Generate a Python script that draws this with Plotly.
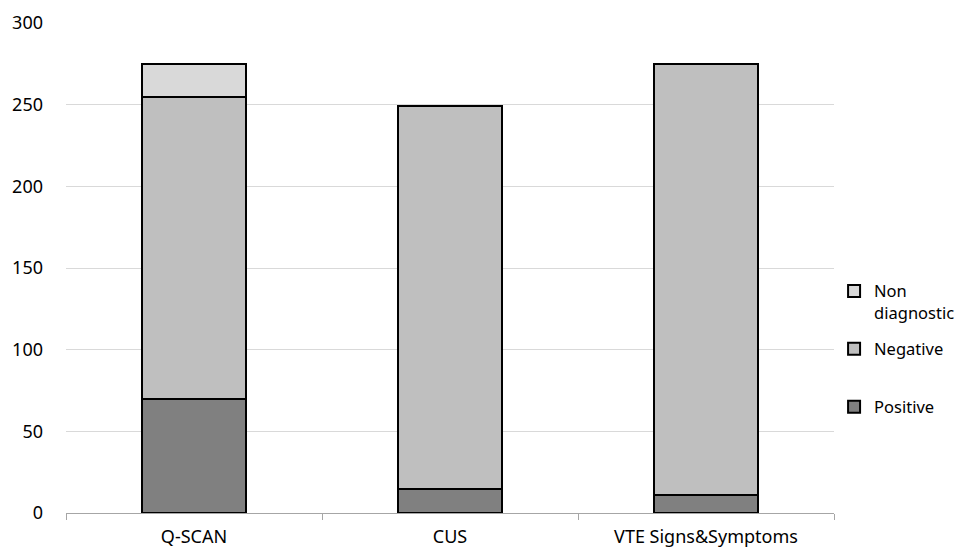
import plotly.graph_objects as go

categories = ["Q-SCAN", "CUS", "VTE Signs&Symptoms"]
positive = [70, 15, 11]
negative = [185, 234, 264]
non_diagnostic = [20, 0, 0]
y_ticks = [0, 50, 100, 150, 200, 250, 300]

font_family = "Noto Sans, Open Sans, sans-serif"

fig = go.Figure()
fig.add_trace(go.Bar(x=categories, y=positive, name="Positive<br> ",
                     marker=dict(color="#808080", line=dict(color="#000000", width=2)),
                     legendgroup="a", legendrank=3))
fig.add_trace(go.Bar(x=categories, y=negative, name="Negative<br> ",
                     marker=dict(color="#bfbfbf", line=dict(color="#000000", width=2)),
                     legendgroup="b", legendrank=2))
fig.add_trace(go.Bar(x=categories, y=non_diagnostic, name="Non<br>diagnostic",
                     marker=dict(color="#d9d9d9", line=dict(color="#000000", width=2)),
                     legendgroup="c", legendrank=1))

fig.update_layout(
    barmode="stack",
    bargap=0.594,
    width=973, height=549,
    margin=dict(l=58, r=147, t=15, b=44, autoexpand=False),
    plot_bgcolor="white", paper_bgcolor="white",
    font=dict(family=font_family, size=18, color="#000000"),
    legend=dict(xref="container", yref="container",
                x=0.849, xanchor="left", y=0.516, yanchor="top",
                traceorder="grouped", tracegroupgap=12, valign="top",
                font=dict(size=16.5), itemwidth=30),
    showlegend=True,
)
fig.update_yaxes(range=[0, 300], tickvals=y_ticks, showgrid=True,
                 gridcolor="#d9d9d9", gridwidth=1, zeroline=False,
                 showline=False, ticks="", ticklen=0, ticklabelstandoff=22,
                 automargin=False)
fig.update_xaxes(showline=True, linecolor="#a6a6a6", linewidth=1,
                 ticks="outside", tickson="boundaries", ticklen=6,
                 tickcolor="#a6a6a6", showgrid=False, ticklabelstandoff=7,
                 automargin=False)

fig.write_html("out.html")
